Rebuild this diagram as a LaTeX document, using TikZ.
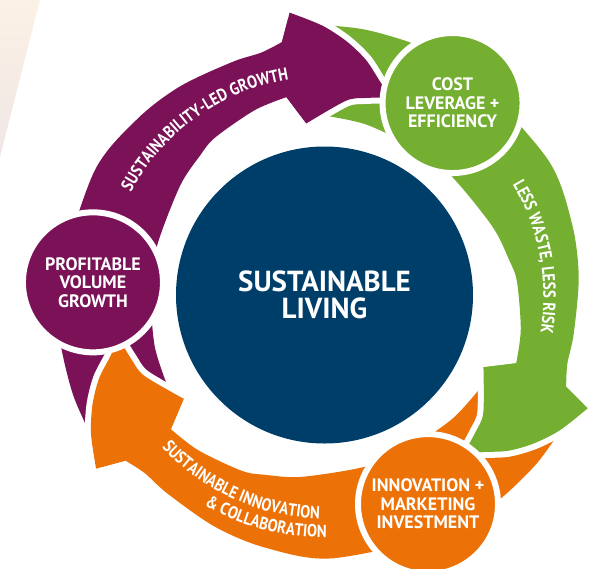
\documentclass[tikz,border=0pt]{standalone}
\usepackage{fontspec}
\setmainfont{PT Sans}
\newfontfamily\narrowfamily{PT Sans}[FakeStretch=0.85]
\usetikzlibrary{decorations.text}

% swoosh with its tail on the circle at 0 degrees, running clockwise
\newcommand{\headedge}{-- plot[smooth] coordinates {(-79.5:286) (-86:271) (-91.5:256) (-96.5:240) (-101:222) (-105:210)} -- plot[smooth] coordinates {(-105:210) (-98.5:203) (-92.8:197) (-80.5:174)}}
\newcommand{\bandpath}{plot[smooth] coordinates {(37:273) (25:270) (12:268) (0:266) (-25:262) (-40:258) (-52:255) (-65:252) (-72:252) (-77:258)} \headedge -- plot[smooth] coordinates {(-75.7:203) (-66:199) (-52:193) (-45:188) (-34:182) (-14:175) (0:174) (20:177) (37:183)} -- cycle}
\newcommand{\arcfont}{\narrowfamily\bfseries\fontsize{17.5}{17.5}\selectfont}

\begin{document}
\begin{tikzpicture}[x=1pt, y=1pt,
	purplefill/.style={fill={rgb,255:red, 123; green, 18; blue, 87 }},
	greenfill/.style={fill={rgb,255:red, 116; green, 175; blue, 49 }},
	orangefill/.style={fill={rgb,255:red, 236; green, 114; blue, 8 }},
	gapline/.style={draw=white, line width=12pt, line join=round},
	stage/.style={circle, draw=white, line width=6pt, minimum size=140pt, inner sep=0pt, text=white, align=center, font=\bfseries\fontsize{18}{18.5}\selectfont},
	hub/.style={circle, fill={rgb,255:red, 0; green, 62; blue, 106 }, minimum size=297pt, inner sep=0pt, text=white, align=center, font=\bfseries\fontsize{29}{27.5}\selectfont},
	arctext/.style={decorate, decoration={text along path, text color=white, text align=center, text={#1}}}]
	\useasboundingbox (-324.5,-271.5) rectangle (268.5,296.5);
	% paper corner
	\shade[top color={rgb,255:red, 251; green, 241; blue, 228 }, bottom color={rgb,255:red, 240; green, 230; blue, 230 }] (-324.5,296.5) -- (-284.5,296.5) -- (-324.5,139.5) -- cycle;
	% swooshes
	\fill[purplefill, rotate=176.5] \bandpath;
	\fill[greenfill, rotate=56.5] \bandpath;
	\fill[orangefill, rotate=296.5] \bandpath;
	% heads again, with a white gap over the next tail
	\draw[gapline, rotate=176.5] (-79.5:286) \headedge;
	\fill[purplefill, rotate=176.5] (-77:258) \headedge -- (-75.7:203) -- cycle;
	\draw[gapline, rotate=56.5] (-79.5:286) \headedge;
	\fill[greenfill, rotate=56.5] (-77:258) \headedge -- (-75.7:203) -- cycle;
	\draw[gapline, rotate=296.5] (-79.5:286) \headedge;
	\fill[orangefill, rotate=296.5] (-77:258) \headedge -- (-75.7:203) -- cycle;
	% circles
	\node[hub] (living) at (0,1.5) {SUSTAINABLE\\LIVING};
	\node[stage, purplefill] (volume) at (176.5:232) {PROFITABLE\\VOLUME\\GROWTH};
	\node[stage, greenfill] (cost) at (56.5:232) {COST\\LEVERAGE +\\EFFICIENCY};
	\node[stage, orangefill] (innovation) at (296.5:232) {INNOVATION +\\MARKETING\\INVESTMENT};
	% texts on the swooshes
	\path[arctext={|\arcfont|SUSTAINABILITY-LED GROWTH}] (165.5:220) arc[start angle=165.5, end angle=85.5, radius=220pt];
	\path[arctext={|\arcfont|LESS WASTE, LESS RISK}] (50.7:219) arc[start angle=50.7, end angle=-29.3, radius=219pt];
	\path[arctext={|\arcfont|SUSTAINABLE INNOVATION}] (205.8:222) arc[start angle=205.8, end angle=285.8, radius=222pt];
	\path[arctext={|\arcfont|{\&} COLLABORATION}] (215.3:241) arc[start angle=215.3, end angle=295.3, radius=241pt];
\end{tikzpicture}
\end{document}
